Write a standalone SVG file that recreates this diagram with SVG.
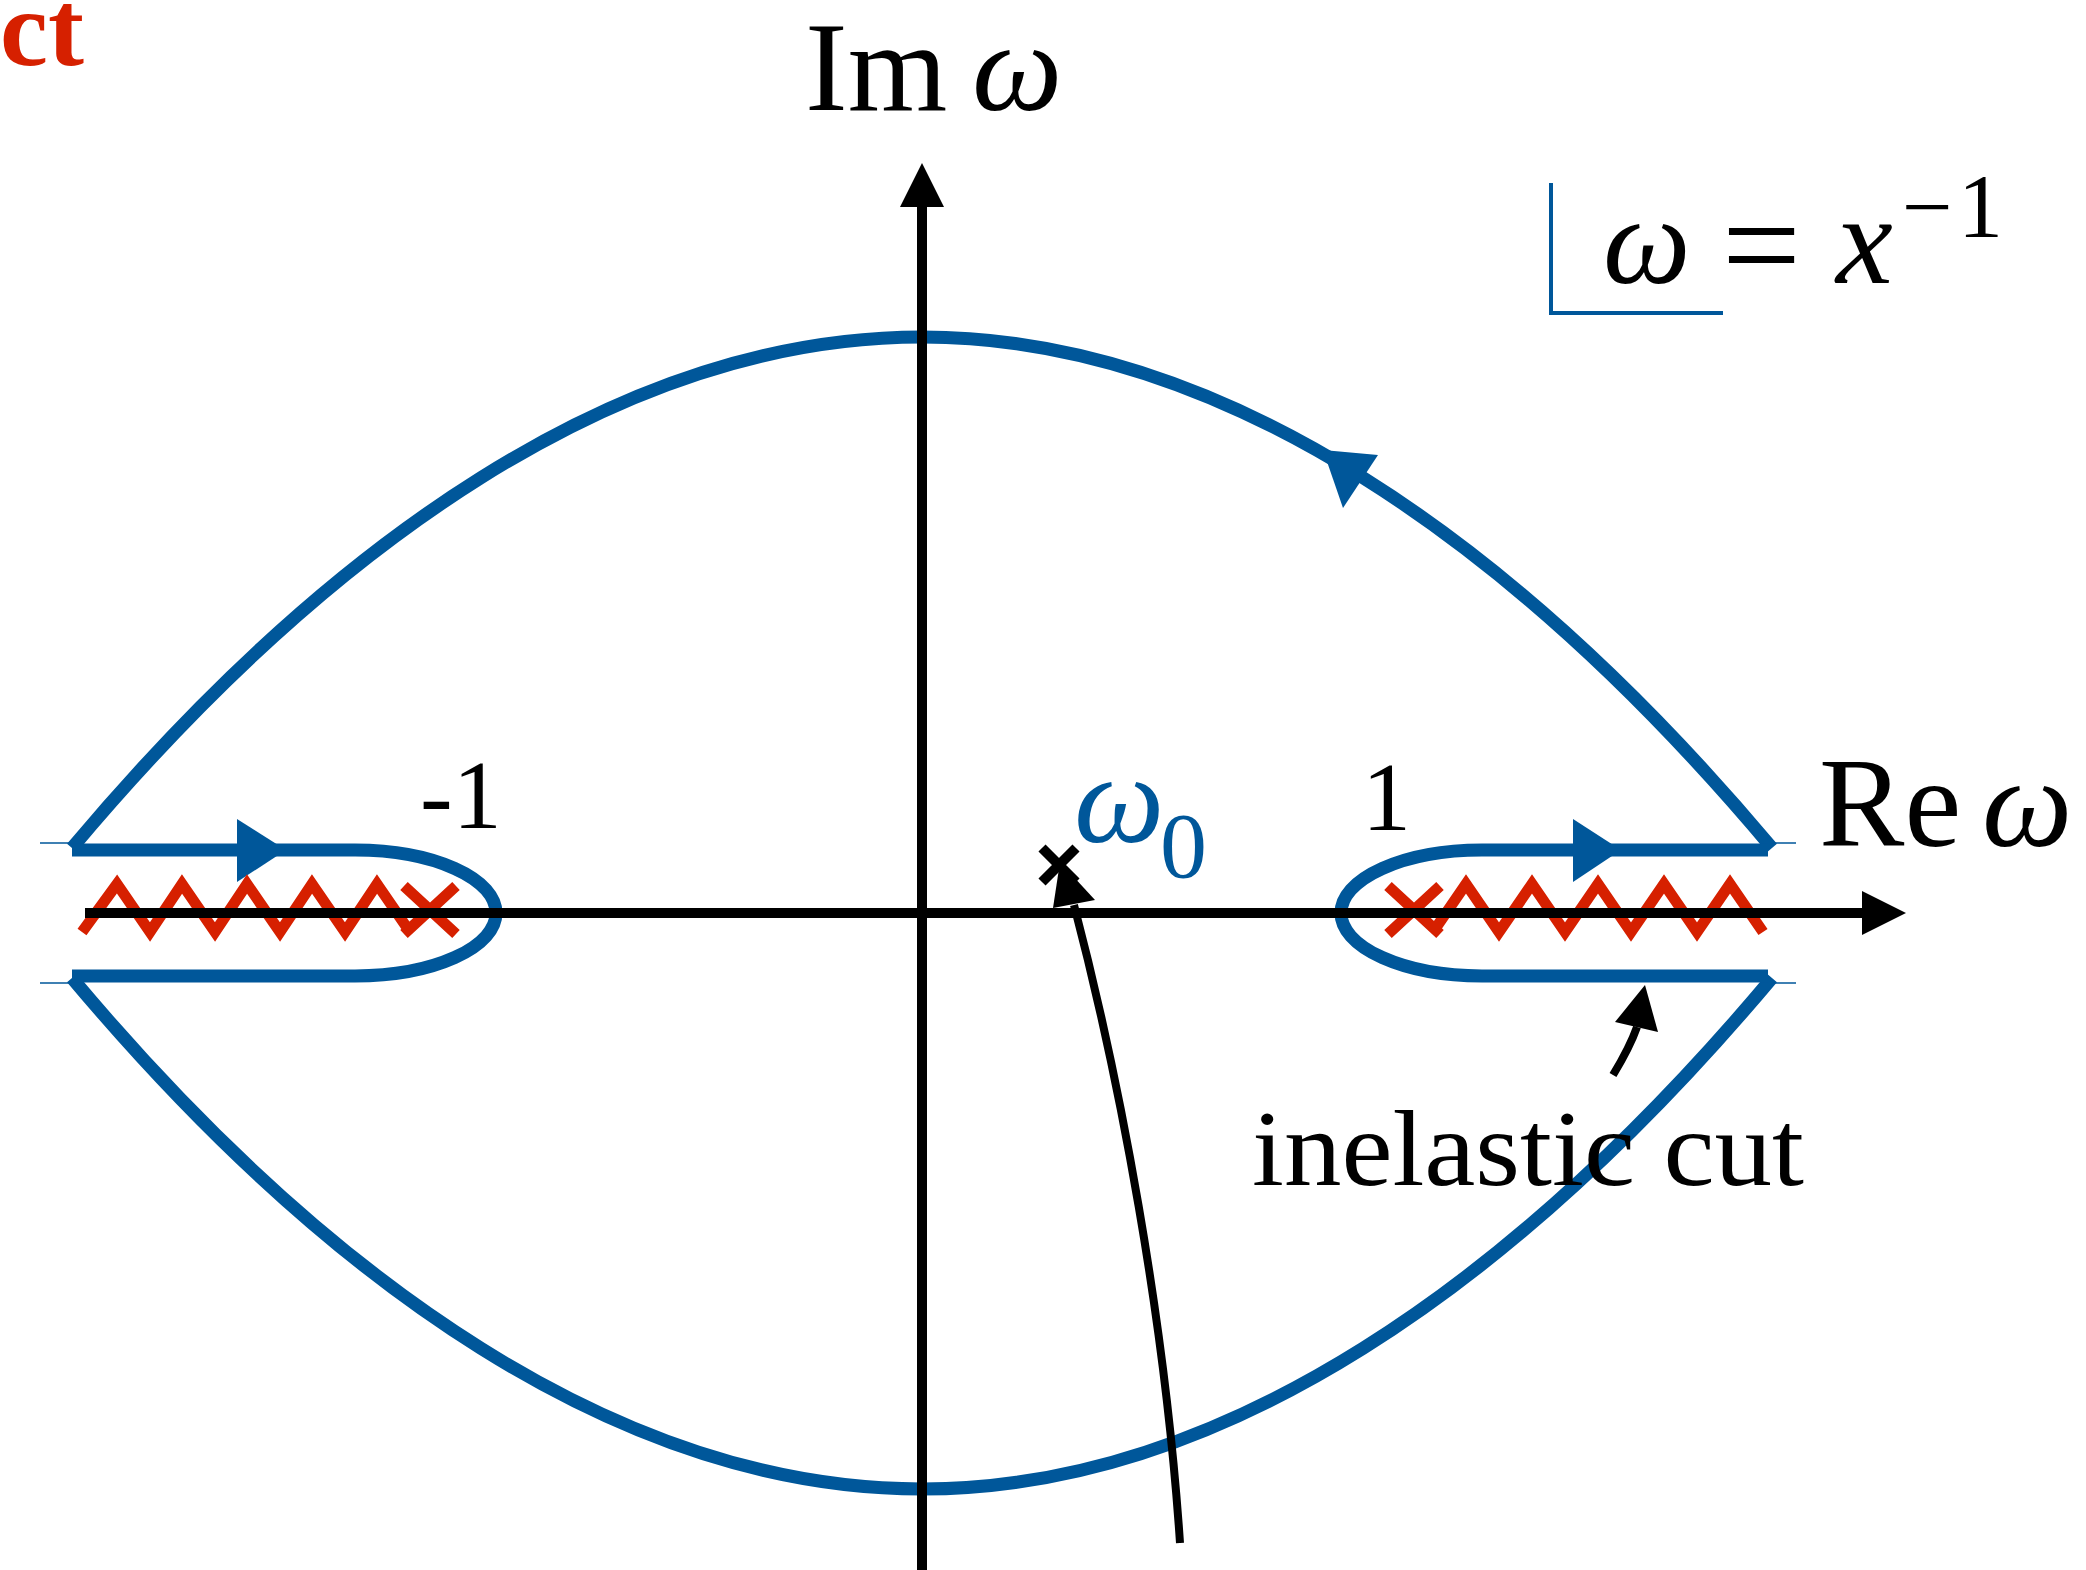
<svg xmlns="http://www.w3.org/2000/svg" width="2086" height="1570" viewBox="0 0 2086 1570">
<style>
  .blue{fill:none;stroke:#00579a;stroke-width:13}
  .hair{fill:none;stroke:#00579a;stroke-width:1.5}
  .bfill{fill:#00579a}
  .red{fill:none;stroke:#d62000;stroke-width:11;stroke-linejoin:miter}
  .ax{fill:none;stroke:#000;stroke-width:10}
  .blk{fill:none;stroke:#000;stroke-width:8}
  text{font-family:"Liberation Serif","Times New Roman",serif;fill:#000}
  .it{font-style:italic}
</style>
<rect width="2086" height="1570" fill="#fff"/>

<g id="contour">
  <path class="blue" d="M72,848 C329,542 622,337 922,337 C1222,337 1515,542 1772,848"/>
  <path class="blue" d="M72,978 C329,1284 622,1489 922,1489 C1222,1489 1515,1284 1772,978"/>
  <path class="blue" d="M72,850 H355 A141,63 0 0 1 355,976 H72"/>
  <path class="blue" d="M1768,850 H1482 A141,63 0 0 0 1482,976 H1768"/>
  <path class="hair" d="M40,843 H72 M40,983 H72 M1772,843 H1796 M1772,983 H1796"/>
  <polygon class="bfill" points="237,819 286,850 237,882"/>
  <polygon class="bfill" points="1573,819 1621,850 1573,882"/>
  <polygon class="bfill" points="1323,450 1378,455 1343,508"/>
</g>

<g id="cuts">
  <polyline class="red" points="82,932 117,884 150,932 182,884 215,932 247,884 280,932 312,884 345,932 377,884 410,932"/>
  <path class="red" d="M404,886 L456,934 M456,886 L404,934"/>
  <polyline class="red" points="1433,932 1466,884 1499,932 1532,884 1565,932 1598,884 1631,932 1664,884 1697,932 1730,884 1763,932"/>
  <path class="red" d="M1388,886 L1440,934 M1440,886 L1388,934"/>
</g>

<g id="axes">
  <line class="ax" x1="85" y1="913" x2="1864" y2="913"/>
  <polygon points="1862,891 1906,913 1862,935" fill="#000"/>
  <line class="ax" x1="922" y1="1570" x2="922" y2="205"/>
  <polygon points="900,207 922,163 944,207" fill="#000"/>
</g>

<g id="pole">
  <path d="M1042,848 L1076,882 M1076,848 L1042,882" stroke="#000" stroke-width="10" fill="none"/>
</g>

<g id="connectors">
  <path class="blk" d="M1180,1543 C1165,1320 1120,1080 1074,905"/>
  <polygon points="1060,862 1095,900 1053,908" fill="#000"/>
  <path class="blk" d="M1613,1075 Q1630,1047 1637,1027"/>
  <polygon points="1645,985 1658,1032 1615,1022" fill="#000"/>
</g>

<g id="legend">
  <path d="M1551,183 V313 H1723" fill="none" stroke="#00579a" stroke-width="4"/>
  <text x="1603" y="283" font-size="124" class="it">ω</text>
  <text x="1722" y="292" font-size="140">=</text>
  <text x="1836" y="283" font-size="128" class="it">x</text>
  <text x="1902" y="237" font-size="90">−</text>
  <text x="1958" y="237" font-size="90">1</text>
</g>

<g id="labels">
  <text x="0" y="65" font-size="108" font-weight="bold" style="fill:#d62000">ct</text>
  <text x="805" y="110" font-size="128">Im<tspan class="it" x="972">ω</tspan></text>
  <text x="1819" y="846" font-size="128">Re<tspan class="it" x="1982">ω</tspan></text>
  <text x="420" y="828" font-size="98">-1</text>
  <text x="1362" y="830" font-size="98">1</text>
  <text x="1074" y="842" font-size="128" style="fill:#00579a"><tspan class="it">ω</tspan><tspan x="1160" y="877" font-size="94">0</tspan></text>
  <text x="1252" y="1185" font-size="108" textLength="552" lengthAdjust="spacingAndGlyphs">inelastic cut</text>
</g>
</svg>
